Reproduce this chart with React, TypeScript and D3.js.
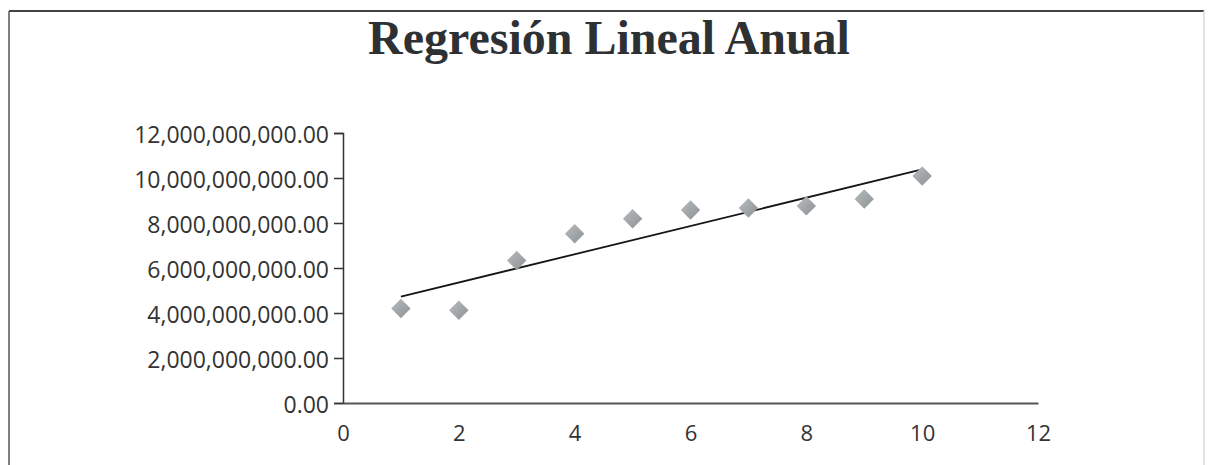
import { useEffect, useRef } from 'react';
import * as d3 from 'd3';

// periods (years 1..10) and annual values
const periods = [1, 2, 3, 4, 5, 6, 7, 8, 9, 10];
const values = [4.2e9, 4.12e9, 6.33e9, 7.52e9, 8.19e9, 8.58e9, 8.67e9, 8.76e9, 9.07e9, 10.09e9];
const xTicks = [0, 2, 4, 6, 8, 10, 12];
const yTicks = [0, 2e9, 4e9, 6e9, 8e9, 10e9, 12e9];
const title = 'Regresión Lineal Anual';

const W = 1208;
const H = 465;

const App = () => {
  const svgRef = useRef<SVGSVGElement>(null);

  useEffect(() => {
    if (!svgRef.current) return;
    const root = d3.select(svgRef.current);
    root.selectAll('*').remove();

    // frame of the scanned chart
    root.append('rect').attr('width', W).attr('height', H).attr('fill', '#fff');
    root.append('line').attr('x1', 9).attr('x2', 1204).attr('y1', 11).attr('y2', 11)
      .attr('stroke', '#444').attr('stroke-width', 2);
    root.append('line').attr('x1', 9).attr('x2', 9).attr('y1', 11).attr('y2', H)
      .attr('stroke', '#555').attr('stroke-width', 1.5);
    root.append('line').attr('x1', 1204).attr('x2', 1204).attr('y1', 11).attr('y2', H)
      .attr('stroke', '#d8d8d8').attr('stroke-width', 1.5);

    // title
    root.append('text')
      .attr('x', 609)
      .attr('y', 54)
      .attr('text-anchor', 'middle')
      .attr('font-family', '"Liberation Serif", "Times New Roman", serif')
      .attr('font-weight', 'bold')
      .attr('font-size', 48)
      .attr('fill', '#2e3133')
      .text(title);

    // scales
    const xScale = d3.scaleLinear().domain([0, 12]).range([343, 1038]);
    const yScale = d3.scaleLinear().domain([0, 12e9]).range([403, 133]);

    // axes
    const yAxis = d3.axisLeft(yScale)
      .tickValues(yTicks)
      .tickSize(9)
      .tickPadding(5)
      .tickFormat(d => d3.format(',.2f')(+d));
    const yg = root.append('g').attr('transform', 'translate(343,0)').call(yAxis);
    yg.select('.domain').attr('stroke', '#333').attr('stroke-width', 1.5);
    yg.selectAll('.tick line').attr('stroke', '#333').attr('stroke-width', 1.5);
    yg.selectAll('.tick text')
      .attr('font-family', '"Open Sans", sans-serif')
      .attr('font-size', 23)
      .attr('fill', '#333')
      .attr('dy', '0.42em');

    const xAxis = d3.axisBottom(xScale)
      .tickValues(xTicks)
      .tickSize(0)
      .tickPadding(22)
      .tickFormat(d => String(d));
    const xg = root.append('g').attr('transform', 'translate(0,403)').call(xAxis);
    xg.select('.domain').attr('stroke', '#555').attr('stroke-width', 2);
    xg.selectAll('.tick text')
      .attr('font-family', '"Open Sans", sans-serif')
      .attr('font-size', 22)
      .attr('fill', '#333');

    // least-squares trend line
    const data = periods.map((p, i) => ({ x: p, y: values[i] }));
    const mx = d3.mean(data, d => d.x) as number;
    const my = d3.mean(data, d => d.y) as number;
    const sxy = d3.sum(data, d => (d.x - mx) * (d.y - my));
    const sxx = d3.sum(data, d => (d.x - mx) ** 2);
    const slope = sxy / sxx;
    const fit = (x: number) => my + slope * (x - mx);
    const ext = d3.extent(periods) as [number, number];

    const line = d3.line<number>()
      .x(d => xScale(d))
      .y(d => yScale(fit(d)));

    root.append('path')
      .datum(ext)
      .attr('fill', 'none')
      .attr('stroke', '#151515')
      .attr('stroke-width', 1.8)
      .attr('d', line);

    // diamond markers
    const defs = root.append('defs');
    const grad = defs.append('linearGradient')
      .attr('id', 'dia')
      .attr('x1', '0%').attr('y1', '0%').attr('x2', '100%').attr('y2', '100%');
    grad.append('stop').attr('offset', '0%').attr('stop-color', '#b8bcbe');
    grad.append('stop').attr('offset', '100%').attr('stop-color', '#8c9193');

    const diamond = d3.symbol().type(d3.symbolDiamond2).size(240);
    root.selectAll('.dot')
      .data(data)
      .enter()
      .append('path')
      .attr('class', 'dot')
      .attr('d', diamond)
      .attr('transform', d => `translate(${xScale(d.x)},${yScale(d.y)})`)
      .attr('fill', 'url(#dia)');
  }, []);

  return (
    <svg
      ref={svgRef}
      width={W}
      height={H}
      style={{ position: 'absolute', left: 0, top: 0, display: 'block' }}
    />
  );
};

export default App;
